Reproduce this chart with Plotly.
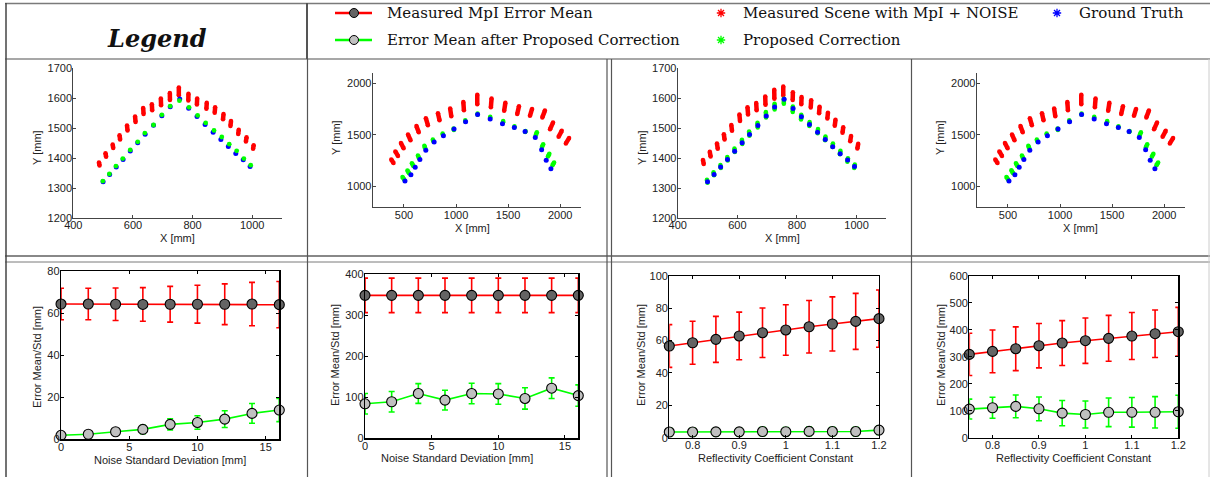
import math
import plotly.graph_objects as go

W, H = 1210, 477

# ---------------- DATA ----------------
# Scene A (panels 1 and 3): ground truth, proposed correction, measured (noisy clusters)
gt_a_x = [500, 522, 544, 567, 591, 616, 641, 669, 697, 725, 757, 787, 815, 842, 869, 895, 920, 945, 970, 993]
gt_a_y = [1321, 1345, 1370, 1395, 1423, 1451, 1479, 1509, 1541, 1571, 1597, 1566, 1538, 1512, 1486, 1462, 1438, 1415, 1394, 1372]
corr1_x = [499, 521, 543, 566, 591, 616, 640, 669, 697, 725, 756, 788, 817, 844, 872, 898, 923, 948, 972, 995]
corr1_y = [1323, 1347, 1373, 1398, 1427, 1454, 1483, 1510, 1544, 1573, 1591, 1569, 1542, 1517, 1492, 1470, 1446, 1424, 1398, 1376]
meas1_x = [487, 509, 533, 556, 581, 608, 635, 664, 694, 724, 754, 786, 815, 847, 875, 903, 928, 954, 980, 1004]
meas1_y = [1380, 1410, 1439, 1469, 1500, 1529, 1557, 1569, 1587, 1605, 1622, 1603, 1588, 1574, 1560, 1538, 1515, 1487, 1462, 1437]
meas1_spread = [5, 6, 6, 7, 8, 9, 10, 10, 11, 12, 13, 11, 10, 10, 9, 9, 8, 7, 7, 6]

corr3_x = [499, 521, 544, 567, 591, 616, 640, 668, 696, 725, 756, 786, 814, 842, 870, 895, 920, 945, 970, 993]
corr3_y = [1323, 1348, 1372, 1398, 1426, 1454, 1482, 1510, 1545, 1572, 1590, 1563, 1537, 1514, 1490, 1466, 1443, 1419, 1394, 1373]
corr3_spread = [5, 5, 5, 6, 6, 7, 7, 8, 9, 10, 8, 9, 8, 7, 7, 6, 6, 6, 6, 6]
meas3_x = [486, 509, 533, 556, 581, 608, 635, 664, 694, 724, 754, 786, 815, 847, 875, 903, 928, 954, 980, 1004]
meas3_y = [1387, 1413, 1440, 1471, 1501, 1535, 1558, 1572, 1592, 1613, 1624, 1607, 1592, 1581, 1561, 1542, 1518, 1494, 1465, 1440]
meas3_spread = [7, 8, 9, 9, 10, 11, 12, 12, 14, 15, 15, 13, 12, 12, 11, 10, 10, 9, 9, 8]
sensor_a = (750, 0)

# Scene B (panels 2 and 4)
gt_b_x = [510, 567, 608, 653, 710, 790, 879, 981, 1092, 1207, 1328, 1446, 1560, 1663, 1761, 1822, 1866, 1911]
gt_b_y = [1054, 1115, 1188, 1261, 1350, 1430, 1490, 1557, 1627, 1697, 1653, 1608, 1570, 1532, 1475, 1357, 1255, 1172]
corr2_x = [494, 541, 583, 640, 700, 780, 873, 978, 1089, 1207, 1328, 1452, 1560, 1666, 1771, 1831, 1889, 1934]
corr2_y = [1080, 1143, 1213, 1287, 1382, 1446, 1506, 1554, 1634, 1700, 1669, 1627, 1576, 1532, 1510, 1395, 1303, 1220]
corr2_spread = [15, 15, 15, 15, 12, 10, 8, 8, 6, 6, 6, 6, 6, 6, 15, 15, 15, 15]
meas2_x = [389, 430, 484, 551, 631, 720, 834, 949, 1073, 1204, 1338, 1468, 1596, 1720, 1841, 1917, 2000, 2070]
meas2_y = [1245, 1318, 1395, 1475, 1554, 1627, 1675, 1717, 1777, 1841, 1809, 1771, 1739, 1717, 1701, 1586, 1510, 1443]
meas2_spread = [20, 25, 28, 30, 32, 35, 35, 38, 40, 45, 42, 40, 38, 35, 35, 35, 32, 30]
corr4_spread = [16, 16, 15, 15, 13, 10, 8, 8, 6, 6, 6, 6, 6, 6, 16, 16, 16, 16]
sensor_b = (1200, 0)

# Error panels: noise standard deviation
noise_std = [0, 2, 4, 6, 8, 10, 12, 14, 16]
p5_meas_mean = [64.3, 64.3, 64.2, 64.1, 64.2, 64.2, 64.2, 64.3, 64.0]
p5_meas_std = [7.5, 7.5, 7.7, 8.0, 8.5, 9.0, 9.7, 10.3, 11.0]
p5_corr_mean = [1.9, 2.4, 3.6, 4.7, 7.1, 8.0, 9.6, 12.3, 13.9]
p5_corr_std = [0.8, 0.8, 1.0, 2.0, 2.6, 3.2, 4.0, 4.7, 5.5]

p6_meas_mean = [348, 348, 348, 348, 348, 348, 348, 348, 348]
p6_meas_std = [42, 42, 42, 42, 42, 42, 42, 42, 42]
p6_corr_mean = [84, 89, 109, 93, 109, 108, 97, 122, 104]
p6_corr_std = [25, 25, 24, 24, 25, 25, 26, 25, 26]

# Error panels: reflectivity coefficient
refl = [0.75, 0.8, 0.85, 0.9, 0.95, 1.0, 1.05, 1.1, 1.15, 1.2]
p7_meas_mean = [56.6, 58.6, 60.7, 62.8, 64.8, 66.5, 68.5, 70.2, 71.8, 73.5]
p7_meas_std = [13.2, 13.3, 14.2, 14.7, 15.3, 15.6, 16.2, 16.7, 17.3, 17.7]
p7_corr_mean = [3.5, 3.5, 3.6, 3.6, 3.8, 3.7, 3.9, 3.8, 3.8, 4.7]
p7_corr_std = [2.5, 2.5, 2.5, 2.5, 2.6, 2.5, 2.6, 2.6, 2.6, 2.7]

p8_meas_mean = [308.6, 319.7, 329.6, 340.7, 350.6, 359.3, 367.9, 376.5, 385.2, 392.6]
p8_meas_std = [78, 79, 81, 82, 83, 84, 85, 87, 88, 90]
p8_corr_mean = [106, 111, 116, 107, 91, 86, 94, 94, 94, 96]
p8_corr_std = [37, 39, 42, 44, 47, 50, 53, 55, 58, 61]

legend_line_labels = ["Measured MpI Error Mean", "Error Mean after Proposed Correction"]
legend_star_labels = ["Measured Scene with MpI + NOISE", "Proposed Correction", "Ground Truth"]

RED, GREEN, BLUE = "#ff0000", "#00ff00", "#0000ff"
SANS = "Liberation Sans, Arial, sans-serif"
SERIF = "DejaVu Serif, serif"

fig = go.Figure()


def px_x(a, b):
    return [a / W, b / W]


def px_y(top, bottom):
    return [1 - bottom / H, 1 - top / H]


def segments(xs, ys, hs, sensor):
    X, Y = [], []
    sx, sy = sensor
    for x, y, h in zip(xs, ys, hs):
        dx, dy = x - sx, y - sy
        n = math.hypot(dx, dy)
        ux, uy = dx / n, dy / n
        X += [x - h * ux, x + h * ux, None]
        Y += [y - h * uy, y + h * uy, None]
    return X, Y


def blob_trace(xs, ys, hs, sensor, color, ax, width=4.5):
    X, Y = segments(xs, ys, hs, sensor)
    return go.Scatter(x=X, y=Y, mode="lines+markers", xaxis="x" + ax, yaxis="y" + ax,
                      line=dict(color=color, width=width),
                      marker=dict(color=color, size=width, line=dict(width=0)),
                      showlegend=False, hoverinfo="skip", cliponaxis=False)


def dot_trace(xs, ys, color, ax, size=5):
    return go.Scatter(x=xs, y=ys, mode="markers", xaxis="x" + ax, yaxis="y" + ax,
                      marker=dict(color=color, size=size, line=dict(width=0)),
                      showlegend=False, hoverinfo="skip", cliponaxis=False)


# ---- scatter panels ----
fig.add_trace(blob_trace(meas1_x, meas1_y, meas1_spread, sensor_a, RED, "1"))
fig.add_trace(dot_trace(gt_a_x, gt_a_y, BLUE, "1"))
fig.add_trace(dot_trace(corr1_x, corr1_y, GREEN, "1", 4.8))

fig.add_trace(blob_trace(meas2_x, meas2_y, meas2_spread, sensor_b, RED, "2"))
fig.add_trace(blob_trace(corr2_x, corr2_y, corr2_spread, sensor_b, GREEN, "2", 4.5))
fig.add_trace(dot_trace(gt_b_x, gt_b_y, BLUE, "2"))

fig.add_trace(blob_trace(meas3_x, meas3_y, meas3_spread, sensor_a, RED, "3"))
fig.add_trace(blob_trace(corr3_x, corr3_y, corr3_spread, sensor_a, GREEN, "3", 4.5))
fig.add_trace(dot_trace(gt_a_x, gt_a_y, BLUE, "3"))

fig.add_trace(blob_trace(meas2_x, meas2_y, meas2_spread, sensor_b, RED, "4"))
fig.add_trace(blob_trace(corr2_x, corr2_y, corr4_spread, sensor_b, GREEN, "4", 4.5))
fig.add_trace(dot_trace(gt_b_x, gt_b_y, BLUE, "4"))


# ---- error panels ----
def err_trace(xs, ys, es, color, fill, ax):
    return go.Scatter(x=xs, y=ys, mode="lines+markers", xaxis="x" + ax, yaxis="y" + ax,
                      line=dict(color=color, width=1.6),
                      marker=dict(color=fill, size=10, line=dict(color="#000000", width=1.1)),
                      error_y=dict(type="data", array=es, visible=True, color=color,
                                   thickness=1.6, width=3),
                      showlegend=False, hoverinfo="skip", cliponaxis=False)


fig.add_trace(err_trace(noise_std, p5_meas_mean, p5_meas_std, RED, "#646464", "5"))
fig.add_trace(err_trace(noise_std, p5_corr_mean, p5_corr_std, GREEN, "#c0c0c0", "5"))
fig.add_trace(err_trace(noise_std, p6_meas_mean, p6_meas_std, RED, "#646464", "6"))
fig.add_trace(err_trace(noise_std, p6_corr_mean, p6_corr_std, GREEN, "#c0c0c0", "6"))
fig.add_trace(err_trace(refl, p7_meas_mean, p7_meas_std, RED, "#646464", "7"))
fig.add_trace(err_trace(refl, p7_corr_mean, p7_corr_std, GREEN, "#c0c0c0", "7"))
fig.add_trace(err_trace(refl, p8_meas_mean, p8_meas_std, RED, "#646464", "8"))
fig.add_trace(err_trace(refl, p8_corr_mean, p8_corr_std, GREEN, "#c0c0c0", "8"))

# ---- legend glyphs on a pixel overlay axis ----
fig.add_trace(go.Scatter(x=[335, 372], y=[13, 13], mode="lines", xaxis="x9", yaxis="y9",
                         line=dict(color=RED, width=2.5), showlegend=False, hoverinfo="skip"))
fig.add_trace(go.Scatter(x=[354], y=[13], mode="markers", xaxis="x9", yaxis="y9",
                         marker=dict(color="#646464", size=9, line=dict(color="#000", width=1)),
                         showlegend=False, hoverinfo="skip"))
fig.add_trace(go.Scatter(x=[335, 372], y=[40, 40], mode="lines", xaxis="x9", yaxis="y9",
                         line=dict(color=GREEN, width=2.5), showlegend=False, hoverinfo="skip"))
fig.add_trace(go.Scatter(x=[354], y=[40], mode="markers", xaxis="x9", yaxis="y9",
                         marker=dict(color="#c0c0c0", size=9, line=dict(color="#000", width=1)),
                         showlegend=False, hoverinfo="skip"))
for (sx, sy, sc) in [(721, 13, RED), (721, 40, GREEN), (1057, 13, BLUE)]:
    fig.add_trace(go.Scatter(x=[sx], y=[sy], mode="markers", xaxis="x9", yaxis="y9",
                             marker=dict(symbol="asterisk-open", size=7, color=sc,
                                         line=dict(color=sc, width=1.3)),
                             showlegend=False, hoverinfo="skip"))

# ---- axes ----
tick_font = dict(family=SANS, size=11, color="#222222")


def top_axes(xd, yd, xr, yr, xt, yt):
    xa = dict(domain=px_x(*xd), range=xr, tickvals=xt, showline=True, linecolor="#444444",
              linewidth=1, ticks="inside", ticklen=3, tickcolor="#444444", showgrid=False,
              zeroline=False, tickfont=tick_font, mirror=False)
    ya = dict(domain=px_y(*yd), range=yr, tickvals=yt, showline=True, linecolor="#444444",
              linewidth=1, ticks="inside", ticklen=3, tickcolor="#444444", showgrid=False,
              zeroline=False, tickfont=tick_font, mirror=False)
    return xa, ya


def bottom_axes(xd, yd, xr, yr, xt, xtt, yt):
    xa = dict(domain=px_x(*xd), range=xr, tickvals=xt, ticktext=xtt, showline=True,
              linecolor="#000000", linewidth=1.2, ticks="inside", ticklen=3, tickcolor="#000000",
              showgrid=False, zeroline=False, tickfont=tick_font, mirror="allticks")
    ya = dict(domain=px_y(*yd), range=yr, tickvals=yt, showline=True, linecolor="#000000",
              linewidth=1.2, ticks="inside", ticklen=3, tickcolor="#000000", showgrid=False,
              zeroline=False, tickfont=tick_font, mirror="allticks")
    return xa, ya


axes = {}
axes[1] = top_axes((73.3, 282), (68, 218), [400, 1100], [1200, 1700],
                   [400, 600, 800, 1000], [1200, 1300, 1400, 1500, 1600, 1700])
axes[2] = top_axes((372.7, 581), (72.7, 207.3), [200, 2200], [800, 2100],
                   [500, 1000, 1500, 2000], [1000, 1500, 2000])
axes[3] = top_axes((677.7, 886.4), (68.3, 218), [400, 1100], [1200, 1700],
                   [400, 600, 800, 1000], [1200, 1300, 1400, 1500, 1600, 1700])
axes[4] = top_axes((976.7, 1185), (72.7, 207.3), [200, 2200], [800, 2100],
                   [500, 1000, 1500, 2000], [1000, 1500, 2000])
axes[5] = bottom_axes((61, 279.3), (271, 439.3), [0, 16], [0, 80],
                      [0, 5, 10, 15], ["0", "5", "10", "15"], [0, 20, 40, 60, 80])
axes[6] = bottom_axes((365, 578.3), (274, 438.3), [0, 16], [0, 400],
                      [0, 5, 10, 15], ["0", "5", "10", "15"], [0, 100, 200, 300, 400])
axes[7] = bottom_axes((669.3, 879), (275.7, 437.7), [0.75, 1.2], [0, 100],
                      [0.8, 0.9, 1.0, 1.1, 1.2], ["0.8", "0.9", "1", "1.1", "1.2"],
                      [0, 20, 40, 60, 80, 100])
axes[8] = bottom_axes((969.3, 1178.3), (275.7, 437.7), [0.75, 1.2], [0, 600],
                      [0.8, 0.9, 1.0, 1.1, 1.2], ["0.8", "0.9", "1", "1.1", "1.2"],
                      [0, 100, 200, 300, 400, 500, 600])

layout = dict(width=W, height=H, margin=dict(l=0, r=0, t=0, b=0, pad=0, autoexpand=False),
              paper_bgcolor="white", plot_bgcolor="rgba(0,0,0,0)", showlegend=False)
for i, (xa, ya) in axes.items():
    xa["anchor"] = "y%d" % i
    ya["anchor"] = "x%d" % i
    layout["xaxis%d" % i] = xa
    layout["yaxis%d" % i] = ya
layout["xaxis9"] = dict(domain=[0, 1], range=[0, W], visible=False, anchor="y9", fixedrange=True)
layout["yaxis9"] = dict(domain=[0, 1], range=[H, 0], visible=False, anchor="x9", fixedrange=True)
fig.update_layout(**layout)

# pull tick labels a little closer to the axes (MATLAB style), if supported
for i in range(1, 9):
    try:
        fig.layout["xaxis%d" % i].ticklabelstandoff = -3
        fig.layout["yaxis%d" % i].ticklabelstandoff = -2
    except Exception:
        pass

# ---- text ----
ann = []


def text(x, y, s, size=11, family=SANS, angle=0, xanchor="center", color="#222222", **kw):
    ann.append(dict(x=x / W, y=1 - y / H, xref="paper", yref="paper", text=s, showarrow=False,
                    textangle=angle, xanchor=xanchor, yanchor="middle",
                    font=dict(family=family, size=size, color=color), **kw))


for (xl, yl, xs) in [((177, 238), (37, 148), "X [mm]"), ((472, 228), (336, 138), "X [mm]"),
                     ((782, 238), (642, 148), "X [mm]"), ((1080, 228), (940, 138), "X [mm]")]:
    text(xl[0], xl[1], xs)
    text(yl[0], yl[1], "Y [mm]", angle=-90)
for (xl, yl, xs) in [((170, 460), (37, 357), "Noise Standard Deviation [mm]"),
                     ((457, 458), (335, 355), "Noise Standard Deviation [mm]"),
                     ((775, 458), (641, 355), "Reflectivity Coefficient Constant"),
                     ((1073, 458), (941, 355), "Reflectivity Coefficient Constant")]:
    text(xl[0], xl[1], xs)
    text(yl[0], yl[1], "Error Mean/Std [mm]", angle=-90)

text(157, 38, "<b><i>Legend</i></b>", size=24, family=SERIF, color="#111111")
text(385, 13, legend_line_labels[0], size=15, family=SERIF, xanchor="left", color="#111111")
text(385, 40, legend_line_labels[1], size=15, family=SERIF, xanchor="left", color="#111111")
text(741, 13, legend_star_labels[0], size=15, family=SERIF, xanchor="left", color="#111111")
text(741, 40, legend_star_labels[1], size=15, family=SERIF, xanchor="left", color="#111111")
text(1077, 13, legend_star_labels[2], size=15, family=SERIF, xanchor="left", color="#111111")

# ---- table borders ----
shapes = []


def hline(y, x0, x1, color, width):
    shapes.append(dict(type="line", xref="paper", yref="paper", x0=x0 / W, x1=x1 / W,
                       y0=1 - y / H, y1=1 - y / H, line=dict(color=color, width=width)))


def vline(x, y0, y1, color, width):
    shapes.append(dict(type="line", xref="paper", yref="paper", x0=x / W, x1=x / W,
                       y0=1 - y0 / H, y1=1 - y1 / H, line=dict(color=color, width=width)))


hline(3.5, 5, W, "#7a7a7a", 1.5)
hline(59, 5, W, "#8a8a8a", 1.5)
hline(256, 5, W, "#888888", 2)
hline(262, 5, W, "#7a7a7a", 1)
vline(6, 3, H, "#444444", 1.5)
vline(307, 3, 59, "#555555", 2)
vline(307.5, 59, H, "#555555", 1.2)
vline(607, 59, H, "#555555", 1.2)
vline(611.5, 59, H, "#555555", 1.2)
vline(911.5, 59, H, "#555555", 1.2)
vline(1209, 59, H, "#cccccc", 1)

fig.update_layout(annotations=ann, shapes=shapes)
fig.write_html("out.html",
               config={"displayModeBar": False, "staticPlot": True},
               post_script="document.body.style.margin='0';document.body.style.overflow='hidden';"
                           "document.documentElement.style.overflow='hidden';")
